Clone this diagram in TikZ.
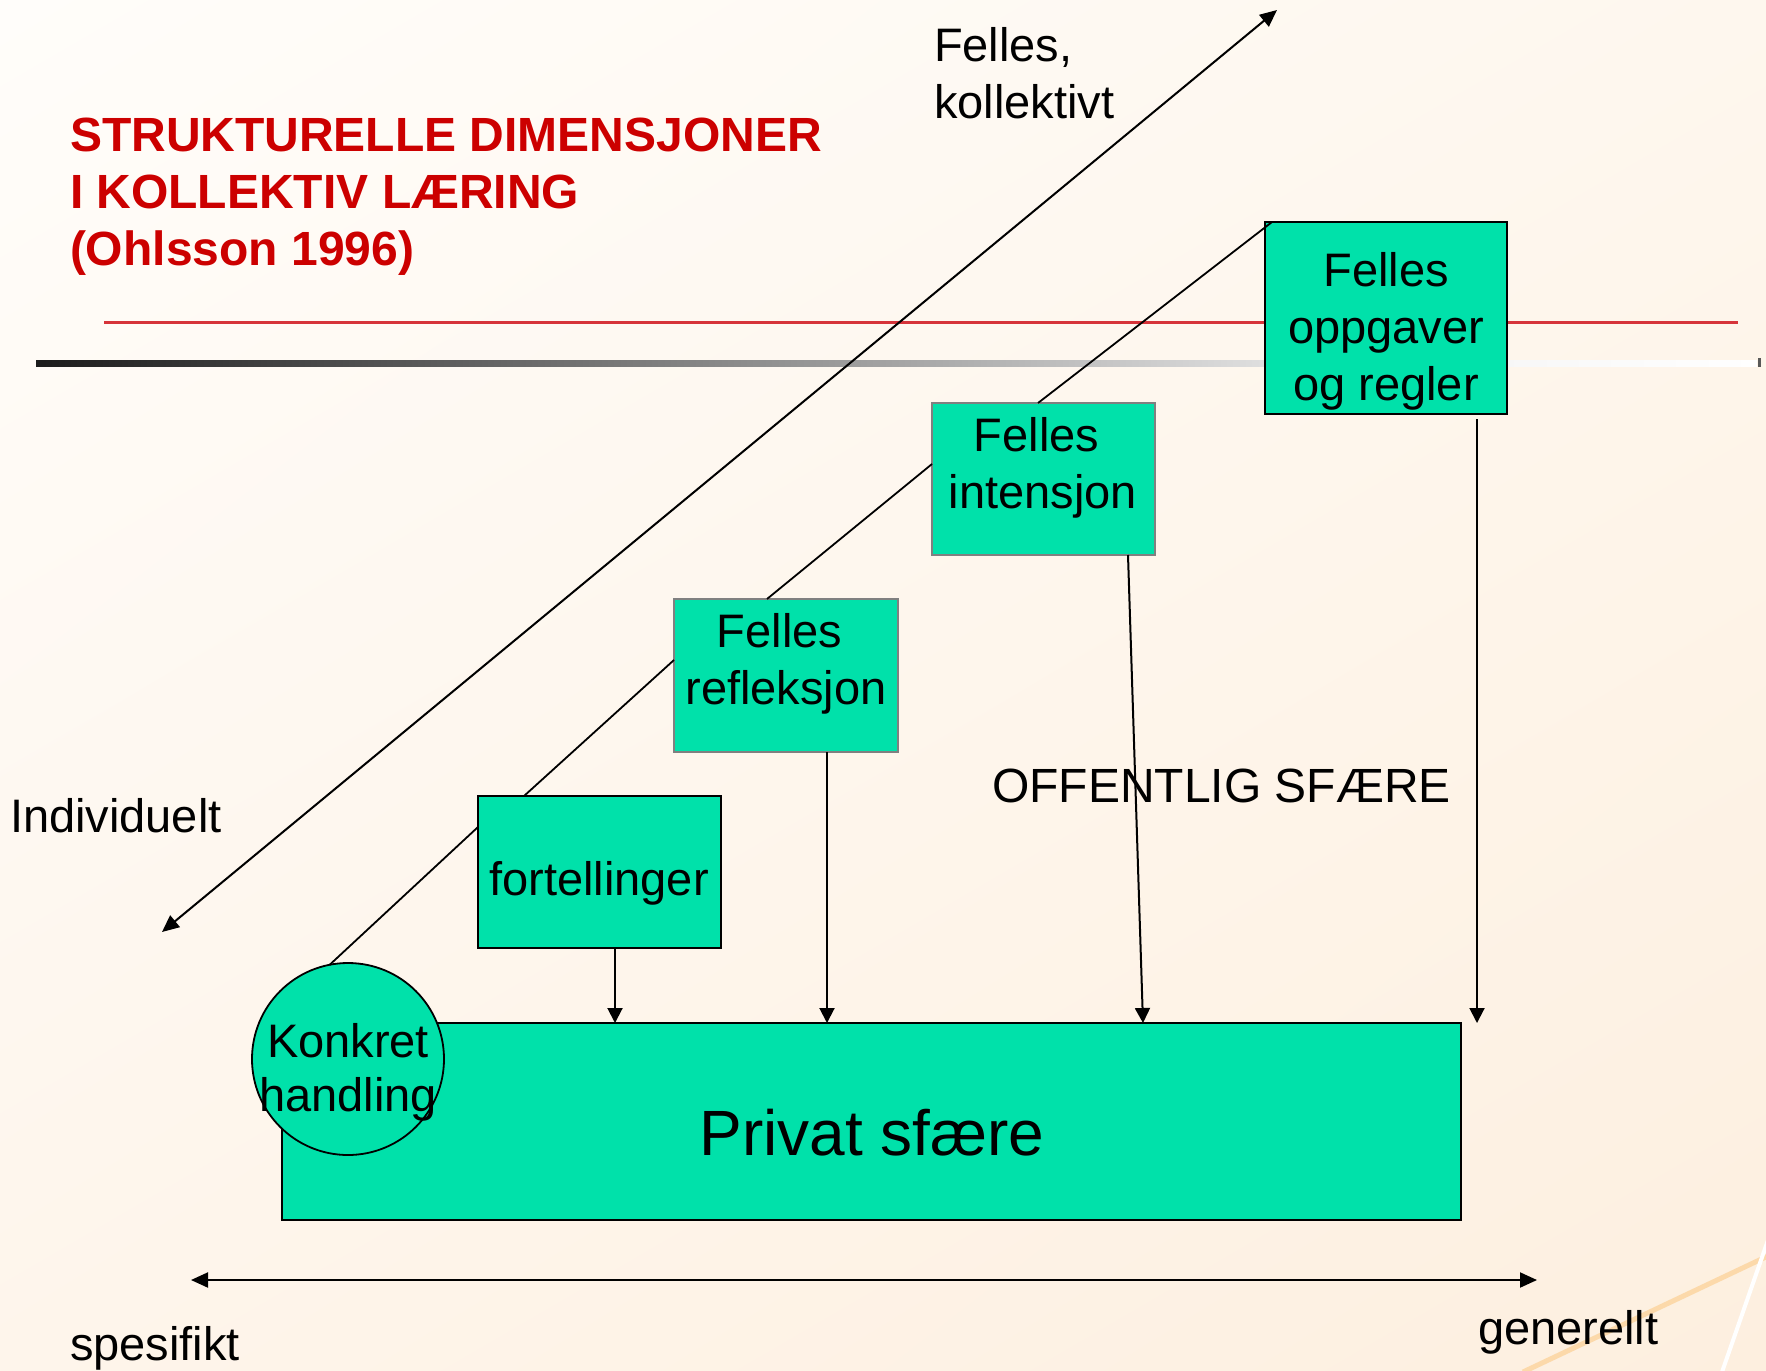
\documentclass[tikz,border=0pt]{standalone}
\usepackage{fontspec}
\setmainfont{Liberation Sans}
\usetikzlibrary{arrows.meta,shadings}
\definecolor{bgA}{RGB}{255,253,250}
\definecolor{bgB}{RGB}{254,247,238}
\definecolor{bgC}{RGB}{254,245,235}
\definecolor{bgD}{RGB}{253,239,223}
\definecolor{boxgreen}{RGB}{0,225,170}
\definecolor{titlered}{RGB}{204,0,0}
\definecolor{rulered}{RGB}{214,52,58}
\definecolor{decoorange}{RGB}{252,217,170}
\definecolor{softborder}{RGB}{128,128,128}
\tikzset{
  txt/.style={inner sep=0pt, outer sep=0pt, font=\fontsize{47}{57}\selectfont, text=black},
  greenbox/.style={draw=black, line width=2pt, fill=boxgreen, inner sep=0pt, outer sep=0pt, rectangle, anchor=north west},
  softbox/.style={draw=softborder, line width=1.2pt, fill=boxgreen, inner sep=0pt, outer sep=0pt, rectangle, anchor=north west},
  link/.style={line width=1.8pt, draw=black},
  downarrow/.style={line width=2pt, draw=black, -{Triangle[length=15pt,width=15pt]}},
  axisarrow/.style={line width=2pt, draw=black, {Triangle[length=17pt,width=15pt]}-{Triangle[length=17pt,width=15pt]}}
}
\begin{document}
\begin{tikzpicture}[x=1pt,y=-1pt]
\useasboundingbox (0,0) rectangle (1766,1370);
% background
\shade[upper left=bgA, upper right=bgB, lower left=bgC, lower right=bgD] (0,0) rectangle (1766,1370);
\begin{scope}
\clip (0,0) rectangle (1766,1370);
\draw[decoorange, line width=5pt] (1523,1372) -- (1770,1255);
\draw[white, line width=4pt] (1722,1372) -- (1768,1240);
\end{scope}
% rules
\draw[rulered, line width=3pt] (104,322) -- (1738,322);
\shade[left color={rgb,255:red,28;green,28;blue,28}, right color={rgb,255:red,244;green,244;blue,244}] (36,360) rectangle (1400,366);
\shade[left color={rgb,255:red,244;green,244;blue,244}, right color=white] (1400,360) rectangle (1757,366);
\fill[black!65] (1758,358) rectangle (1761,367);
% title
\node[txt, anchor=north west, align=left, text=titlered, font=\fontsize{48}{57}\selectfont\bfseries] (title) at (70,118)
  {STRUKTURELLE DIMENSJONER\\I KOLLEKTIV LÆRING\\(Ohlsson 1996)};
% axis labels
\node[txt, anchor=north west, align=left] (kollektivt) at (934,27) {Felles,\\kollektivt};
\node[txt, anchor=base west] (individuelt) at (10,832) {Individuelt};
\node[txt, anchor=base west] (spesifikt) at (70,1360) {spesifikt};
\node[txt, anchor=base west] (generellt) at (1478,1344) {generellt};
% axes
\coordinate (indEnd) at (162,932);
\coordinate (kolEnd) at (1277,10);
\draw[axisarrow] (indEnd) -- (kolEnd);
\coordinate (speEnd) at (191,1280);
\coordinate (genEnd) at (1537,1280);
\draw[axisarrow] (speEnd) -- (genEnd);
% boxes
\node[greenbox, minimum width=1179pt, minimum height=197pt] (privat) at (282,1023) {};
\node[greenbox, minimum width=243pt, minimum height=152pt] (fort) at (478,796) {};
\node[softbox, minimum width=224pt, minimum height=153pt] (refl) at (674,599) {};
\node[softbox, minimum width=223pt, minimum height=152pt] (inten) at (932,403) {};
\node[greenbox, minimum width=242pt, minimum height=192pt] (oppg) at (1265,222) {};
\node[draw=black, line width=1.8pt, fill=boxgreen, circle, minimum size=192pt, inner sep=0pt, outer sep=0pt] (konkret) at (348,1059) {};
% chain links
\draw[link] (konkret.101) -- ([yshift=-31pt]fort.north west);
\draw[link] ([xshift=46pt]fort.north west) -- ([yshift=-61pt]refl.north west);
\draw[link] ([xshift=93pt]refl.north west) -- ([yshift=-61pt]inten.north west);
\draw[link] ([xshift=106pt]inten.north west) -- ([xshift=7pt]oppg.north west);
% down arrows
\draw[downarrow] ([xshift=137pt]fort.south west) -- ([xshift=137pt]fort.south west |- privat.north);
\draw[downarrow] ([xshift=153pt]refl.south west) -- ([xshift=153pt]refl.south west |- privat.north);
\draw[downarrow] ([xshift=196pt]inten.south west) -- ([xshift=211pt]inten.south west |- privat.north);
\draw[downarrow] ([xshift=212pt,yshift=-5pt]oppg.south west) -- ([xshift=212pt]oppg.south west |- privat.north);
% box texts
\node[txt, anchor=north, align=center] (oppgT) at (1386,252) {Felles\\oppgaver\\og regler};
\node[txt, anchor=north, align=center] (intenT) at (1043,417) {Felles\rule{13pt}{0pt}\\intensjon};
\node[txt, anchor=north, align=center] (reflT) at (786,613) {Felles\rule{13pt}{0pt}\\refleksjon};
\node[txt, anchor=base] (fortT) at (599,895) {fortellinger};
\node[txt, anchor=base, font=\fontsize{64}{70}\selectfont] (privatT) at (872,1155) {Privat sfære};
\node[txt, anchor=north, align=center, font=\fontsize{47}{54}\selectfont] (konkretT) at (348,1023) {Konkret\\handling};
\node[txt, anchor=base west, font=\fontsize{48}{57}\selectfont] (offentlig) at (992,802) {OFFENTLIG SFÆRE};
\end{tikzpicture}
\end{document}
